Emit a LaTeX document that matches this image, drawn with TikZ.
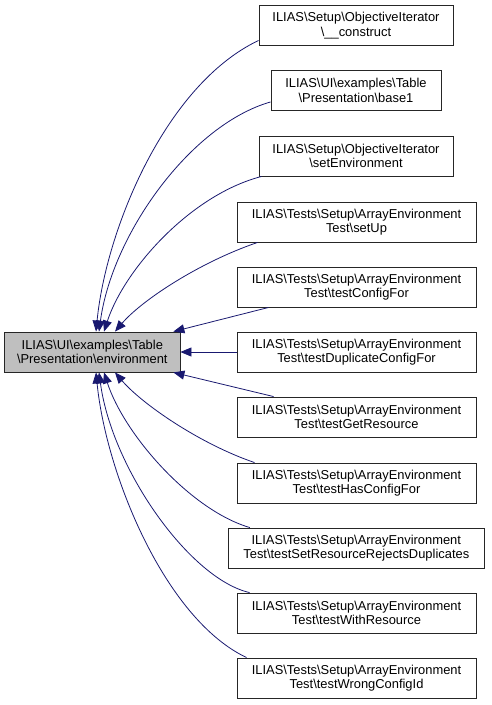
\documentclass[tikz,border=0pt]{standalone}
\usepackage{fontspec}
\setmainfont{Liberation Sans}
\usetikzlibrary{arrows.meta,calc}
\newcommand{\bs}{\textbackslash}
\begin{document}
\begin{tikzpicture}[x=1pt,y=-1pt,
  box/.style={draw=black!85,line width=0.9pt,fill=white,minimum height=40pt,inner sep=0pt,align=center,
    font=\fontsize{12.9}{14.3}\selectfont},
  hl/.style={box,fill=black!25},
  edge/.style={draw={rgb,255:red,25;green,25;blue,112},line width=0.8pt,
    -{Triangle[length=11pt,width=9pt]},color={rgb,255:red,25;green,25;blue,112}}]
\useasboundingbox (0,0) rectangle (491,705);
\node[hl,minimum width=175.3pt] (L) at (92.3,352) {ILIAS\bs UI\bs examples\bs Table\\\bs Presentation\bs environment};
\node[box,minimum width=194pt] (n1) at (356,25.5) {ILIAS\bs Setup\bs ObjectiveIterator\\\bs\_\_construct};
\node[box,minimum width=170pt] (n2) at (356,90.5) {ILIAS\bs UI\bs examples\bs Table\\\bs Presentation\bs base1};
\node[box,minimum width=194pt] (n3) at (356,156) {ILIAS\bs Setup\bs ObjectiveIterator\\\bs setEnvironment};
\node[box,minimum width=239pt] (n4) at (356.5,222) {ILIAS\bs Tests\bs Setup\bs ArrayEnvironment\\Test\bs setUp};
\node[box,minimum width=239pt] (n5) at (356.5,287) {ILIAS\bs Tests\bs Setup\bs ArrayEnvironment\\Test\bs testConfigFor};
\node[box,minimum width=239pt] (n6) at (356.5,352) {ILIAS\bs Tests\bs Setup\bs ArrayEnvironment\\Test\bs testDuplicateConfigFor};
\node[box,minimum width=239pt] (n7) at (356.5,417) {ILIAS\bs Tests\bs Setup\bs ArrayEnvironment\\Test\bs testGetResource};
\node[box,minimum width=239pt] (n8) at (356.5,483) {ILIAS\bs Tests\bs Setup\bs ArrayEnvironment\\Test\bs testHasConfigFor};
\node[box,minimum width=256pt] (n9) at (356.3,548) {ILIAS\bs Tests\bs Setup\bs ArrayEnvironment\\Test\bs testSetResourceRejectsDuplicates};
\node[box,minimum width=239pt] (n10) at (356.5,613) {ILIAS\bs Tests\bs Setup\bs ArrayEnvironment\\Test\bs testWithResource};
\node[box,minimum width=239pt] (n11) at (356.5,678) {ILIAS\bs Tests\bs Setup\bs ArrayEnvironment\\Test\bs testWrongConfigId};

\draw[edge] ([yshift=5.5pt]n1.south west) .. controls (165,85) and (106,230) .. ([xshift=3.7pt]L.north);
\draw[edge] ([yshift=9pt]n2.south west) .. controls (190,125) and (112,235) .. ([xshift=6.7pt]L.north);
\draw[edge] ([xshift=3pt]n3.south west) .. controls (190,195) and (124,270) .. ([xshift=11.7pt]L.north);
\draw[edge] ([xshift=21pt]n4.south west) .. controls (200,262) and (142,300) .. ([xshift=22.7pt]L.north);
\draw[edge] ([xshift=32pt]n5.south west) -- ([xshift=-7pt]L.north east);
\draw[edge] (n6.west) -- (L.east);
\draw[edge] ([xshift=37pt]n7.north west) -- ([xshift=-7pt]L.south east);
\draw[edge] ([xshift=18pt]n8.north west) .. controls (200,444) and (142,404) .. ([xshift=22.7pt]L.south);
\draw[edge] ([xshift=22pt]n9.north west) .. controls (190,510) and (124,434) .. ([xshift=11.7pt]L.south);
\draw[edge] ([xshift=13pt]n10.north west) .. controls (190,579) and (112,469) .. ([xshift=6.7pt]L.south);
\draw[edge] ([xshift=10pt]n11.north west) .. controls (165,619) and (106,474) .. ([xshift=3.7pt]L.south);
\end{tikzpicture}
\end{document}
